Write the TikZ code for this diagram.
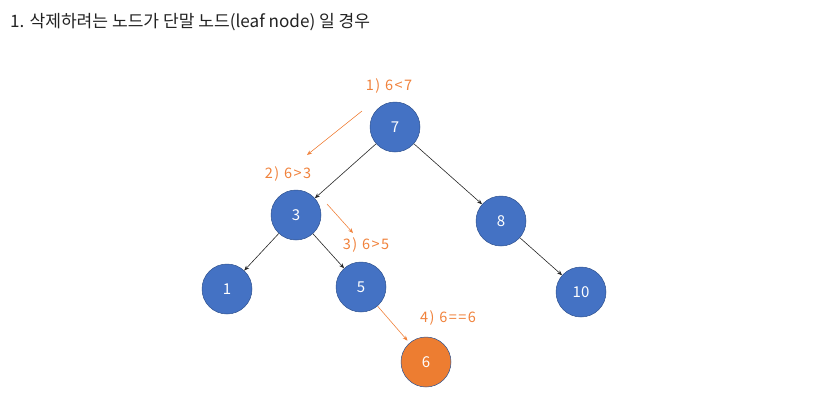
\documentclass[tikz,border=0pt]{standalone}
\usepackage{fontspec}
\setmainfont{Noto Sans CJK KR}
\usetikzlibrary{arrows.meta}
\definecolor{nblue}{HTML}{4472C4}
\definecolor{nedge}{HTML}{2F528F}
\definecolor{norange}{HTML}{ED7D31}
\definecolor{lorange}{HTML}{F0823C}
\definecolor{ttl}{HTML}{222222}
\tikzset{
  tnode/.style={circle, minimum size=50pt, inner sep=0pt, fill=nblue, draw=nedge, line width=0.5pt, text=white, font=\fontsize{15}{15}\selectfont},
  hitnode/.style={tnode, fill=norange},
  edgearrow/.style={-{Stealth[length=5pt,width=4pt]}, draw=black!85, line width=0.6pt},
  steparrow/.style={-{Stealth[length=5pt,width=4pt]}, draw=lorange, line width=0.6pt},
  steplabel/.style={text=lorange, font=\fontsize{14.5}{15}\selectfont\addfontfeature{LetterSpace=10}, inner sep=0pt},
}
\begin{document}
\begin{tikzpicture}[x=1pt,y=-1pt]
\useasboundingbox (0,0) rectangle (833,400);
\node[anchor=west, text=ttl, font=\fontsize{17.1}{18}\selectfont, inner sep=0pt] (title) at (10,22) {1. 삭제하려는 노드가 단말 노드(leaf node) 일 경우};
\node[tnode] (n7) at (395,127) {7};
\node[tnode] (n3) at (296,215) {3};
\node[tnode] (n8) at (501,221) {8};
\node[tnode] (n1) at (227,289) {1};
\node[tnode] (n5) at (361,287) {5};
\node[tnode] (n10) at (581,292) {10};
\node[hitnode] (n6) at (426,362) {6};
\draw[edgearrow] (n7) -- (n3);
\draw[edgearrow] (n7) -- (n8);
\draw[edgearrow] (n3) -- (n1);
\draw[edgearrow] (n3) -- (n5);
\draw[edgearrow] (n8) -- (n10);
\node[steplabel] (l1) at (389,86) {1)\,\,6<7};
\node[steplabel] (l2) at (288,174) {2)\,\,6>3};
\node[steplabel] (l3) at (366,245) {3)\,\,6>5};
\node[steplabel] (l4) at (448,318) {4)\,\,6==6};
\coordinate (a1s) at (362,111);
\coordinate (a1e) at (307,155);
\coordinate (a2s) at (327,204);
\coordinate (a2e) at (353,233);
\draw[steparrow] (a1s) -- (a1e);
\draw[steparrow] (a2s) -- (a2e);
\draw[steparrow, shorten >=3pt] (n5) -- (n6);
\end{tikzpicture}
\end{document}
